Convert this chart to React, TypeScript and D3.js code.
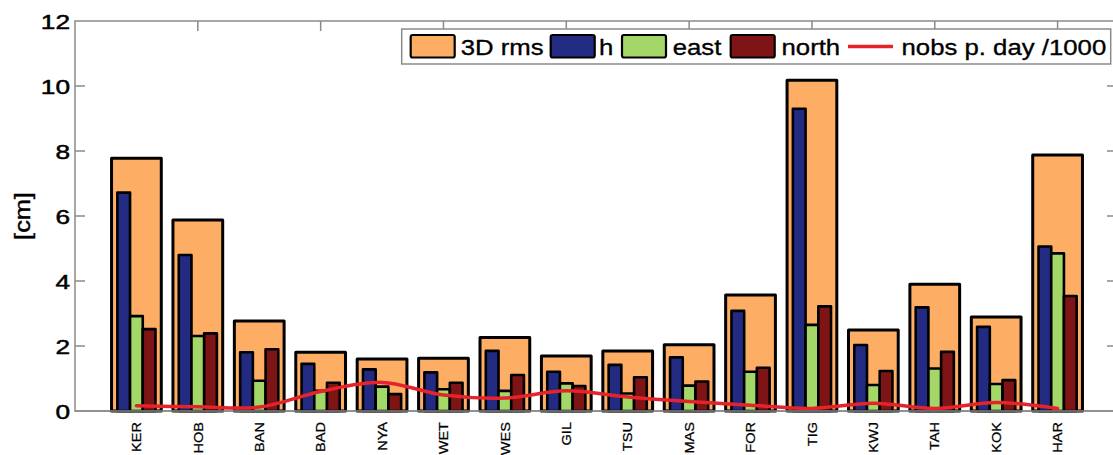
import React, { useEffect } from "react";
import * as d3 from "d3";

const stations = ["KER","HOB","BAN","BAD","NYA","WET","WES","GIL","TSU","MAS","FOR","TIG","KWJ","TAH","KOK","HAR"];
const rms3d = [7.78,5.88,2.77,1.81,1.60,1.62,2.26,1.69,1.85,2.04,3.57,10.18,2.49,3.90,2.89,7.88];
const hVals = [6.72,4.80,1.81,1.45,1.28,1.19,1.85,1.21,1.42,1.65,3.08,9.30,2.03,3.19,2.59,5.06];
const eastVals = [2.92,2.31,0.93,0.62,0.75,0.67,0.62,0.85,0.54,0.78,1.21,2.65,0.80,1.31,0.83,4.85];
const northVals = [2.52,2.39,1.90,0.87,0.52,0.87,1.11,0.77,1.04,0.91,1.33,3.22,1.23,1.82,0.95,3.54];
const nobsVals = [0.16,0.13,0.12,0.60,0.88,0.49,0.40,0.62,0.43,0.29,0.18,0.08,0.24,0.08,0.26,0.08];
const yTicks = [0,2,4,6,8,10,12];
const xTopTicks = [2,4,6,8,10,12,14,16];

const C_ORANGE = "#fdae64";
const C_BLUE = "#232a82";
const C_GREEN = "#a3d768";
const C_RED = "#7e1416";
const C_LINE = "#e4232a";
const C_AXIS = "#8a8a8a";

export default function App() {
  useEffect(() => {
    document.body.style.margin = "0";
  }, []);

  const left = 75, right = 1119, top = 21, bottom = 411;
  const x = d3.scaleLinear().domain([0, 17]).range([left, right]);
  const y = d3.scaleLinear().domain([0, 12]).range([bottom, top]);
  const unit = x(1) - x(0);
  const outerW = 0.81 * unit;
  const innerStep = 0.207;
  const innerW = 0.207 * unit;

  const line = d3
    .line<number>()
    .x((_, i) => x(i + 1))
    .y((v) => y(v))
    .curve(d3.curveCatmullRom.alpha(0.5));

  const font = "'Liberation Sans', Arial, Helvetica, sans-serif";
  const inner = [
    { vals: hVals, color: C_BLUE, off: -innerStep },
    { vals: eastVals, color: C_GREEN, off: 0 },
    { vals: northVals, color: C_RED, off: innerStep },
  ];

  const legendItems = [
    { type: "box", color: C_ORANGE, sx: 410.7, tx: 460.7, label: "3D rms" },
    { type: "box", color: C_BLUE, sx: 550.7, tx: 599, label: "h" },
    { type: "box", color: C_GREEN, sx: 622, tx: 672.7, label: "east" },
    { type: "box", color: C_RED, sx: 730.7, tx: 781.5, label: "north" },
    { type: "line", color: C_LINE, sx: 848, tx: 901.5, label: "nobs p. day /1000" },
  ];

  return (
    <svg
      width={1113}
      height={455}
      style={{ position: "absolute", left: 0, top: 0, background: "#fff" }}
      fontFamily={font}
    >
      <rect x={0} y={0} width={1113} height={455} fill="#fff" />
      <rect x={left} y={top} width={right - left} height={bottom - top} fill="none" stroke={C_AXIS} strokeWidth={1.5} />
      {yTicks.map((t) => (
        <g key={"yt" + t}>
          {t > 0 && t < 12 && (
            <>
              <line x1={left} x2={left + 10} y1={y(t)} y2={y(t)} stroke={C_AXIS} strokeWidth={1.5} />
              <line x1={right} x2={right - 12} y1={y(t)} y2={y(t)} stroke={C_AXIS} strokeWidth={1.5} />
            </>
          )}
          <text
            transform={`translate(70,${y(t) + 7.5}) scale(1.25,1)`}
            textAnchor="end"
            fontSize={21}
            fill="#000"
            stroke="#000"
            strokeWidth={0.5}
          >
            {t}
          </text>
        </g>
      ))}
      {xTopTicks.map((t) => (
        <g key={"xt" + t}>
          <line x1={x(t)} x2={x(t)} y1={top} y2={top + 10} stroke={C_AXIS} strokeWidth={1.5} />
          <line x1={x(t)} x2={x(t)} y1={bottom} y2={bottom - 10} stroke={C_AXIS} strokeWidth={1.5} />
        </g>
      ))}
      <text
        transform={`translate(30,216) rotate(-90) scale(1.15,1)`}
        textAnchor="middle"
        fontSize={22}
        fill="#000"
        stroke="#000"
        strokeWidth={0.4}
      >
        [cm]
      </text>
      {rms3d.map((v, i) => (
        <rect
          key={"o" + i}
          x={x(i + 1) - outerW / 2}
          y={y(v)}
          width={outerW}
          height={y(0) - y(v)}
          fill={C_ORANGE}
          stroke="#000"
          strokeWidth={3}
          strokeLinejoin="round"
        />
      ))}
      {inner.map((s, si) =>
        s.vals.map((v, i) => (
          <rect
            key={"i" + si + "-" + i}
            x={x(i + 1 + s.off) - innerW / 2}
            y={y(v)}
            width={innerW}
            height={y(0) - y(v)}
            fill={s.color}
            stroke="#000"
            strokeWidth={2.6}
            strokeLinejoin="round"
          />
        ))
      )}
      <path d={line(nobsVals) || ""} fill="none" stroke={C_LINE} strokeWidth={3.5} strokeLinecap="round" />
      <line x1={left} x2={right} y1={bottom} y2={bottom} stroke={C_AXIS} strokeWidth={1.5} />
      {stations.map((s, i) => (
        <text
          key={"xl" + i}
          transform={`translate(${x(i + 1)},422) rotate(-90) scale(1.12,1)`}
          textAnchor="end"
          dy="0.36em"
          fontSize={13}
          fill="#000"
          stroke="#000"
          strokeWidth={0.25}
        >
          {s}
        </text>
      ))}
      <rect x={401.7} y={29} width={709} height={35} fill="#fff" stroke={C_AXIS} strokeWidth={1.5} />
      {legendItems.map((it, i) => (
        <g key={"lg" + i}>
          {it.type === "box" ? (
            <rect
              x={it.sx}
              y={35}
              width={44}
              height={22.5}
              rx={2}
              fill={it.color}
              stroke="#000"
              strokeWidth={2.2}
            />
          ) : (
            <line x1={it.sx} x2={it.sx + 45} y1={46.5} y2={46.5} stroke={it.color} strokeWidth={3.5} />
          )}
          <text
            transform={`translate(${it.tx},55) scale(1.12,1)`}
            fontSize={23}
            fill="#000"
            stroke="#000"
            strokeWidth={0.35}
          >
            {it.label}
          </text>
        </g>
      ))}
    </svg>
  );
}
